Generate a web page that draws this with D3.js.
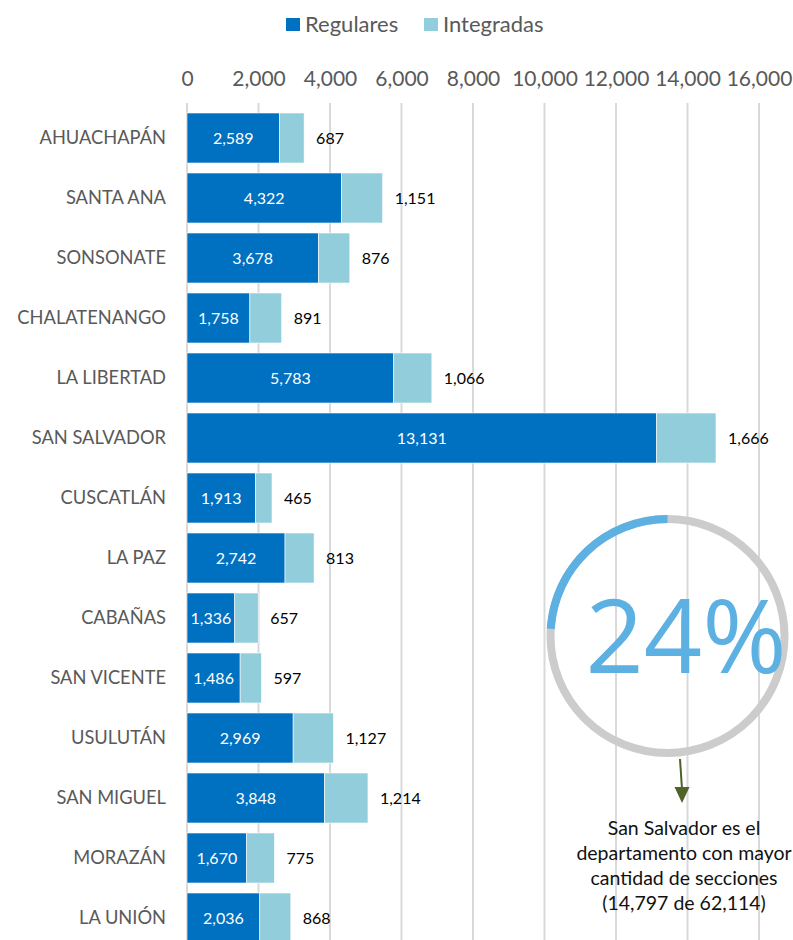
<!DOCTYPE html>
<html><head><meta charset="utf-8">
<script src="https://cdn.jsdelivr.net/npm/d3@7/dist/d3.min.js"></script>
<style>body{margin:0;background:#fff}svg{display:block}</style>
</head><body>
<svg id="c" width="793" height="940"></svg>
<script>
const categories = ["AHUACHAPÁN","SANTA ANA","SONSONATE","CHALATENANGO","LA LIBERTAD","SAN SALVADOR","CUSCATLÁN","LA PAZ","CABAÑAS","SAN VICENTE","USULUTÁN","SAN MIGUEL","MORAZÁN","LA UNIÓN"];
const regulares = [2589,4322,3678,1758,5783,13131,1913,2742,1336,1486,2969,3848,1670,2036];
const integradas = [687,1151,876,891,1066,1666,465,813,657,597,1127,1214,775,868];
const seriesNames = ["Regulares","Integradas"];
const tickValues = [0,2000,4000,6000,8000,10000,12000,14000,16000];
const highlightShare = 0.24;
const highlightLabel = "24%";
const noteLines = ["San Salvador es el","departamento con mayor","cantidad de secciones","(14,797 de 62,114)"];

const colors = ["#0070C0","#92CDDC"];
const font = "Lato, 'Open Sans', sans-serif";
const svg = d3.select("#c");

const x = d3.scaleLinear().domain([0,16000]).range([187,759]);
const y = d3.scaleBand().domain(categories).range([108,948]).paddingInner(1/6).paddingOuter(1/12);

// gridlines
svg.append("g").selectAll("line").data(tickValues).join("line")
  .attr("x1",d=>x(d)).attr("x2",d=>x(d)).attr("y1",103).attr("y2",940)
  .attr("stroke","#D9D9D9").attr("stroke-width",2);

// top axis labels
const ax = svg.append("g").attr("transform","translate(0,86)")
  .call(d3.axisTop(x).tickValues(tickValues).tickFormat(d3.format(",")).tickSize(0).tickPadding(0));
ax.select(".domain").remove();
ax.selectAll("text").attr("font-family",font).attr("font-size",21).attr("fill","#595959");

// category labels
const ay = svg.append("g").attr("transform","translate(171,0)")
  .call(d3.axisLeft(y).tickSize(0).tickPadding(5));
ay.select(".domain").remove();
ay.selectAll("text").attr("font-family",font).attr("font-size",18.3).attr("fill","#595959");

const data = categories.map((c,i)=>({c, r:regulares[i], g:integradas[i]}));

// bars
const rows = svg.append("g").selectAll("g").data(data).join("g");
rows.append("rect").attr("x",x(0)).attr("y",d=>y(d.c)).attr("height",y.bandwidth())
  .attr("width",d=>x(d.r)-x(0)).attr("fill",colors[0]).attr("stroke","#fff").attr("stroke-width",0.6);
rows.append("rect").attr("x",d=>x(d.r)).attr("y",d=>y(d.c)).attr("height",y.bandwidth())
  .attr("width",d=>x(d.r+d.g)-x(d.r)).attr("fill",colors[1]).attr("stroke","#fff").attr("stroke-width",0.6);
rows.append("text").attr("x",d=>(x(0)+x(d.r))/2).attr("y",d=>y(d.c)+y.bandwidth()/2)
  .attr("dy","0.35em").attr("text-anchor","middle").attr("font-family",font).attr("font-size",16)
  .attr("fill","#fff").text(d=>d3.format(",")(d.r));
rows.append("text").attr("x",d=>x(d.r+d.g)+12).attr("y",d=>y(d.c)+y.bandwidth()/2)
  .attr("dy","0.35em").attr("font-family",font).attr("font-size",16)
  .attr("fill","#000").text(d=>d3.format(",")(d.g));

// legend
const lg = svg.append("g");
const legendX = [286,424];
seriesNames.forEach((s,i)=>{
  lg.append("rect").attr("x",legendX[i]).attr("y",18).attr("width",14).attr("height",13).attr("fill",colors[i]);
  lg.append("text").attr("x",legendX[i]+19).attr("y",32).attr("font-family",font).attr("font-size",22)
    .attr("fill","#595959").text(s);
});

// highlight ring
const cx=667.5, cy=636, rr=117;
const ring = svg.append("g").attr("transform",`translate(${cx},${cy})`);
ring.append("circle").attr("r",rr).attr("fill","none").attr("stroke","#CCCCCC").attr("stroke-width",8);
ring.append("path").attr("d", d3.arc().innerRadius(rr-4).outerRadius(rr+4)
  .startAngle(-2*Math.PI*highlightShare).endAngle(0)()).attr("fill","#5DB0E2");
svg.append("text").attr("x",686).attr("y",673).attr("text-anchor","middle")
  .attr("font-family","'Open Sans', Lato, sans-serif").attr("font-weight",400).attr("font-size",102)
  .attr("fill","#5DB0E2").text(highlightLabel);

// arrow
svg.append("line").attr("x1",680).attr("y1",759).attr("x2",682).attr("y2",789)
  .attr("stroke","#4F6228").attr("stroke-width",2);
svg.append("path").attr("d","M674.5,787 L689.5,787 L682,803 Z").attr("fill","#4F6228");

// note
const nt = svg.append("text").attr("text-anchor","middle").attr("font-family",font).attr("font-size",19.5).attr("fill","#111");
noteLines.forEach((l,i)=>nt.append("tspan").attr("x",684).attr("y",835+i*25).text(l));
</script>
</body></html>
